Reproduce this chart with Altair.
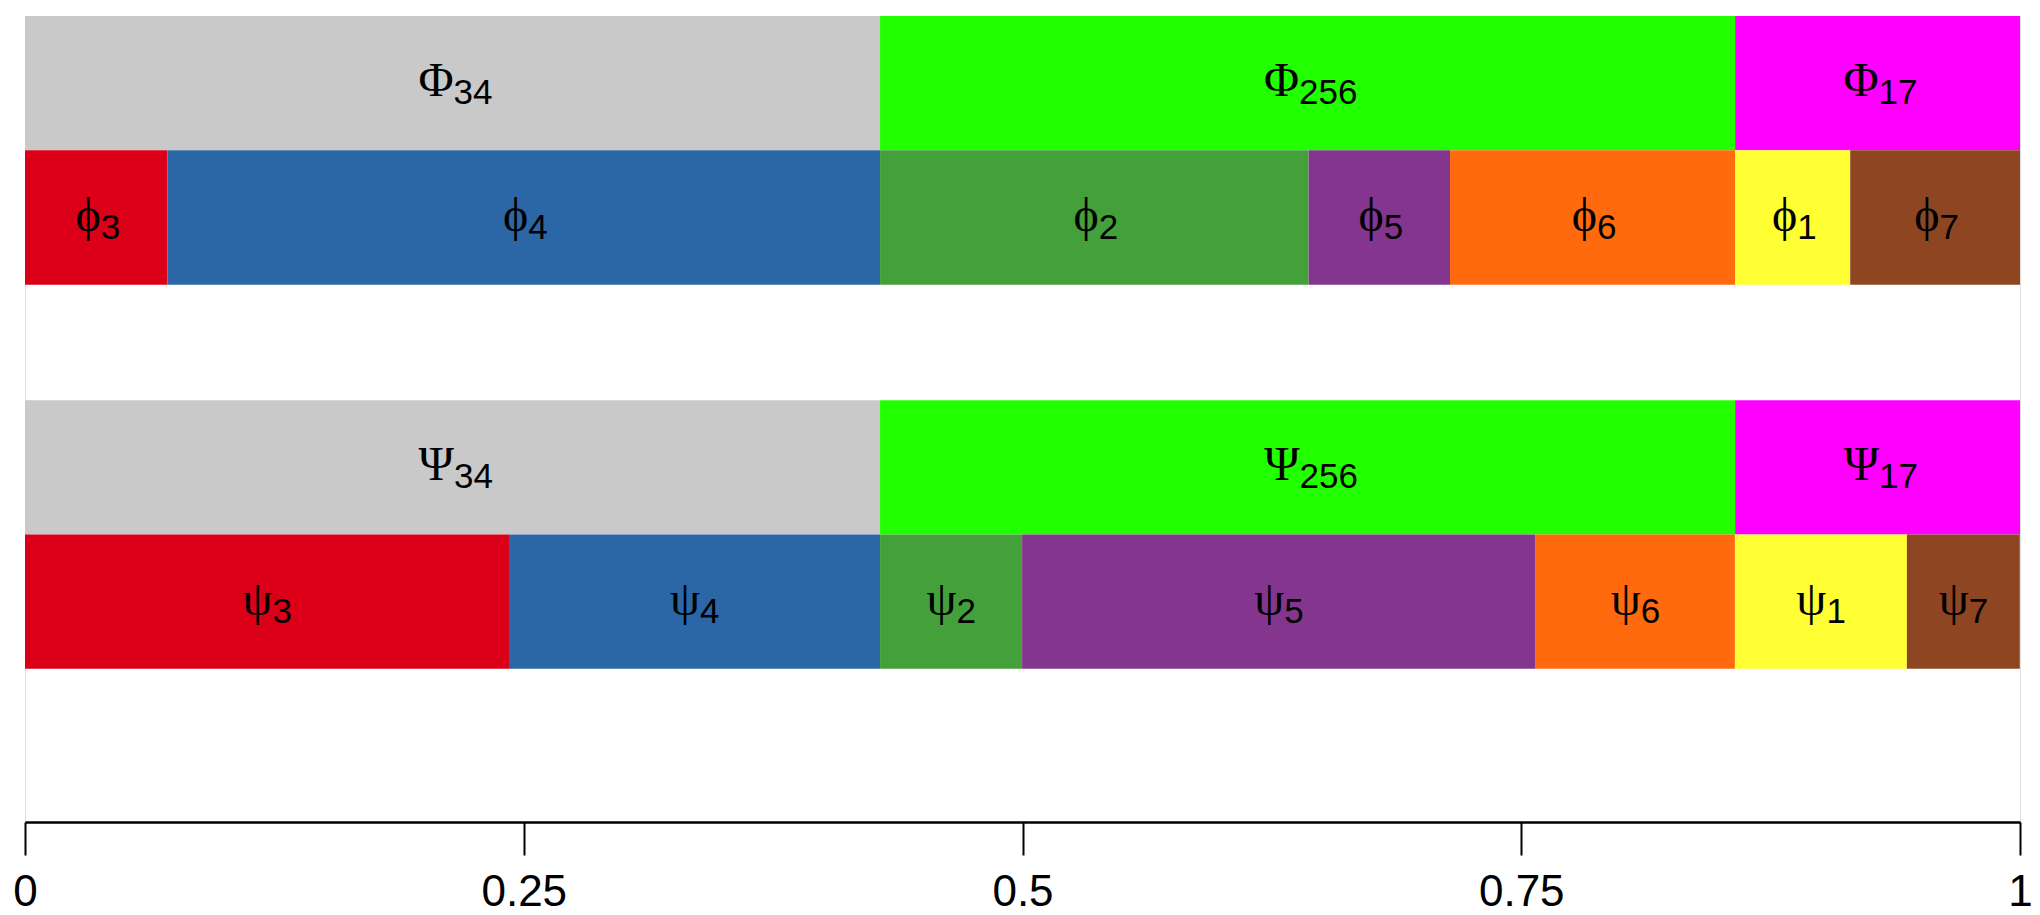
import altair as alt
import pandas as pd

# ---- data ----
group_subs = ["34", "256", "17"]
group_shares = [0.4286, 0.4286, 0.1428]

phi_subs = ["3", "4", "2", "5", "6", "1", "7"]
phi_shares = [0.0714, 0.3572, 0.2148, 0.0709, 0.1429, 0.0577, 0.0851]

psi_subs = ["3", "4", "2", "5", "6", "1", "7"]
psi_shares = [0.2426, 0.1860, 0.0712, 0.2574, 0.0999, 0.0862, 0.0566]

tick_values = [0, 0.25, 0.5, 0.75, 1]
tick_labels = ["0", "0.25", "0.5", "0.75", "1"]

color_domain = ["34", "256", "17", "1", "2", "3", "4", "5", "6", "7"]
color_range = ["#C9C9C9", "#22FF00", "#FF00FF", "#FFFF33", "#43A03B",
               "#DB0017", "#2B67A7", "#84368F", "#FF6A0E", "#8E4521"]

# ---- layout / style constants ----
W, H = 1995, 806
DIGIT_W = 19
rows = [
    ("\u03a6", group_subs, group_shares, 0.0, 40),
    ("\u03d5", phi_subs, phi_shares, 1.0, 28),
    ("\u03a8", group_subs, group_shares, 2.86, 41),
    ("\u03c8", psi_subs, psi_shares, 3.86, 30),
]

recs = []
for letter, subs, shares, top, gw in rows:
    s = pd.Series(shares)
    x1 = s.cumsum()
    x0 = x1 - s
    for sub, a, b in zip(subs, x0, x1):
        mid = (a + b) / 2
        split = mid + (gw / 2 - len(sub) * DIGIT_W / 2) / W
        recs.append(dict(letter=letter, sub=sub, key=sub, x0=a, x1=b,
                         y0=top, y1=top + 1, ymid=top + 0.5, split=split))
df = pd.DataFrame(recs)

label_expr = "''"
for v, l in zip(reversed(tick_values), reversed(tick_labels)):
    label_expr = f"abs(datum.value - {v}) < 1e-9 ? '{l}' : ({label_expr})"

xscale = alt.Scale(domain=[0, 1], nice=False, zero=False)
yscale = alt.Scale(domain=[0, 6], nice=False, zero=False, reverse=True)

xaxis = alt.Axis(values=tick_values, labelExpr=label_expr, title=None, grid=False,
                 domainColor="black", domainWidth=2.5, tickColor="black",
                 tickWidth=2, tickSize=33, labelFontSize=44, labelFont="Liberation Sans",
                 labelColor="black", labelPadding=15, labelFlush=False)

bars = alt.Chart(df).mark_rect(strokeWidth=0).encode(
    x=alt.X("x0:Q", scale=xscale, axis=xaxis),
    x2="x1:Q",
    y=alt.Y("y0:Q", scale=yscale, axis=None),
    y2="y1:Q",
    color=alt.Color("key:N", scale=alt.Scale(domain=color_domain, range=color_range), legend=None),
)

letters = alt.Chart(df).mark_text(
    font="Liberation Serif", fontSize=48, align="right", baseline="alphabetic", dy=13, color="black"
).encode(x=alt.X("split:Q", scale=xscale), y=alt.Y("ymid:Q", scale=yscale), text="letter:N")

digits = alt.Chart(df).mark_text(
    font="Liberation Sans", fontSize=35, align="left", baseline="alphabetic", dy=21, color="black"
).encode(x=alt.X("split:Q", scale=xscale), y=alt.Y("ymid:Q", scale=yscale), text="sub:N")

chart = alt.layer(bars, letters, digits).properties(
    width=W, height=H,
    autosize=alt.AutoSizeParams(type="none"),
    padding={"left": 17, "top": 8, "right": 12, "bottom": 93},
).configure_view(stroke=None).configure(background="white")

chart.save("out.html", embed_options={"renderer": "svg", "actions": False})
